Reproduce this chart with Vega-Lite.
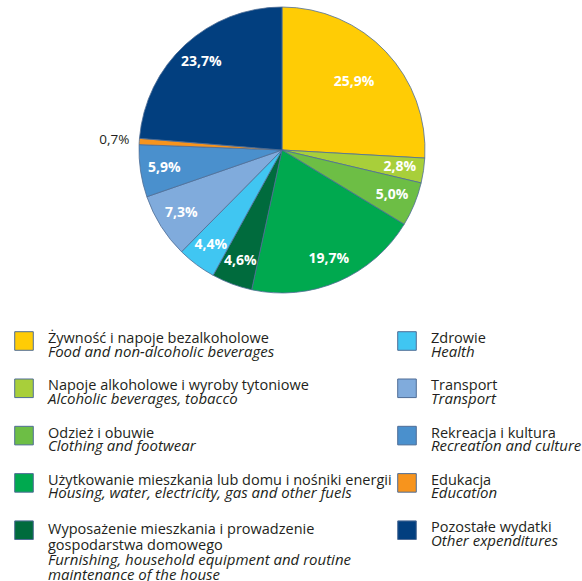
{
  "$schema": "https://vega.github.io/schema/vega-lite/v6.json",
  "background": "white",
  "padding": 5,
  "spacing": 0,
  "config": {"view": {"stroke": null}, "font": "Open Sans"},
  "datasets": {
    "d": [
      {"idx": 0, "value": 25.9, "label": "25,9%", "pl": "Żywność i napoje bezalkoholowe", "en": "Food and non-alcoholic beverages", "col": 0, "row": 0},
      {"idx": 1, "value": 2.8, "label": "2,8%", "pl": "Napoje alkoholowe i wyroby tytoniowe", "en": "Alcoholic beverages, tobacco", "col": 0, "row": 1},
      {"idx": 2, "value": 5.0, "label": "5,0%", "pl": "Odzież i obuwie", "en": "Clothing and footwear", "col": 0, "row": 2},
      {"idx": 3, "value": 19.7, "label": "19,7%", "pl": "Użytkowanie mieszkania lub domu i nośniki energii", "en": "Housing, water, electricity, gas and other fuels", "col": 0, "row": 3},
      {"idx": 4, "value": 4.6, "label": "4,6%", "pl": "Wyposażenie mieszkania i prowadzenie\ngospodarstwa domowego", "en": "Furnishing, household equipment and routine\nmaintenance of the house", "col": 0, "row": 4},
      {"idx": 5, "value": 4.4, "label": "4,4%", "pl": "Zdrowie", "en": "Health", "col": 1, "row": 0},
      {"idx": 6, "value": 7.3, "label": "7,3%", "pl": "Transport", "en": "Transport", "col": 1, "row": 1},
      {"idx": 7, "value": 5.9, "label": "5,9%", "pl": "Rekreacja i kultura", "en": "Recreation and culture", "col": 1, "row": 2},
      {"idx": 8, "value": 0.7, "label": "0,7%", "pl": "Edukacja", "en": "Education", "col": 1, "row": 3},
      {"idx": 9, "value": 23.7, "label": "23,7%", "pl": "Pozostałe wydatki", "en": "Other expenditures", "col": 1, "row": 4}
    ]
  },
  "vconcat": [
    {
      "width": 554,
      "height": 290,
      "data": {"name": "d"},
      "encoding": {
        "theta": {"field": "value", "type": "quantitative", "stack": true, "scale": {"domain": [0, 100]}},
        "order": {"field": "idx", "type": "quantitative"},
        "color": {
          "field": "idx", "type": "nominal", "legend": null,
          "scale": {"domain": [0,1,2,3,4,5,6,7,8,9], "range": ["#FFCC05", "#A8CF3A", "#6DBE45", "#00A94F", "#006B3D", "#40C6F2", "#80ABDC", "#4A90CD", "#F7941D", "#023F7F"]}
        }
      },
      "layer": [
        {"mark": {"type": "arc", "outerRadius": 143, "stroke": "#4f6d96", "strokeWidth": 0.8}},
        {
          "mark": {"type": "text", "radius": 119, "fontWeight": "bold", "fontSize": 14},
          "encoding": {"text": {"condition": {"test": "datum.idx != 0 && datum.idx != 8", "field": "label"}, "value": ""}, "color": {"value": "white"}}
        },
        {
          "mark": {"type": "text", "radius": 99, "fontWeight": "bold", "fontSize": 14},
          "encoding": {"text": {"condition": {"test": "datum.idx == 0", "field": "label"}, "value": ""}, "color": {"value": "white"}}
        },
        {
          "mark": {"type": "text", "radius": 168, "fontSize": 13.5},
          "encoding": {"text": {"condition": {"test": "datum.idx == 8", "field": "label"}, "value": ""}, "color": {"value": "#231f20"}}
        }
      ]
    },
    {
      "width": 572,
      "height": 260,
      "data": {"name": "d"},
      "encoding": {
        "x": {"field": "col", "type": "quantitative", "scale": {"domain": [0, 1], "range": [19, 402]}, "axis": null},
        "y": {"field": "row", "type": "quantitative", "scale": {"domain": [0, 4], "range": [27, 216.2]}, "axis": null}
      },
      "layer": [
        {
          "mark": {"type": "square", "size": 345, "stroke": "#4f6d96", "strokeWidth": 1, "opacity": 1},
          "encoding": {"color": {"field": "idx", "type": "nominal", "legend": null}}
        },
        {
          "transform": [{"filter": "datum.idx != 4"}],
          "mark": {"type": "text", "align": "left", "baseline": "alphabetic", "dx": 24, "dy": 2, "fontSize": 14.5, "color": "#231f20"},
          "encoding": {"text": {"field": "pl"}}
        },
        {
          "transform": [{"filter": "datum.idx == 4"}],
          "mark": {"type": "text", "align": "left", "baseline": "alphabetic", "dx": 24, "dy": 3.5, "fontSize": 14.5, "lineBreak": "\n", "lineHeight": 16, "color": "#231f20"},
          "encoding": {"text": {"field": "pl"}}
        },
        {
          "transform": [{"filter": "datum.idx != 4"}],
          "mark": {"type": "text", "align": "left", "baseline": "alphabetic", "dx": 24, "dy": 15.5, "fontSize": 15, "fontStyle": "italic", "color": "#231f20"},
          "encoding": {"text": {"field": "en"}}
        },
        {
          "transform": [{"filter": "datum.idx == 4"}],
          "mark": {"type": "text", "align": "left", "baseline": "alphabetic", "dx": 24, "dy": 35, "fontSize": 15, "fontStyle": "italic", "lineBreak": "\n", "lineHeight": 14.5, "color": "#231f20"},
          "encoding": {"text": {"field": "en"}}
        }
      ]
    }
  ]
}
